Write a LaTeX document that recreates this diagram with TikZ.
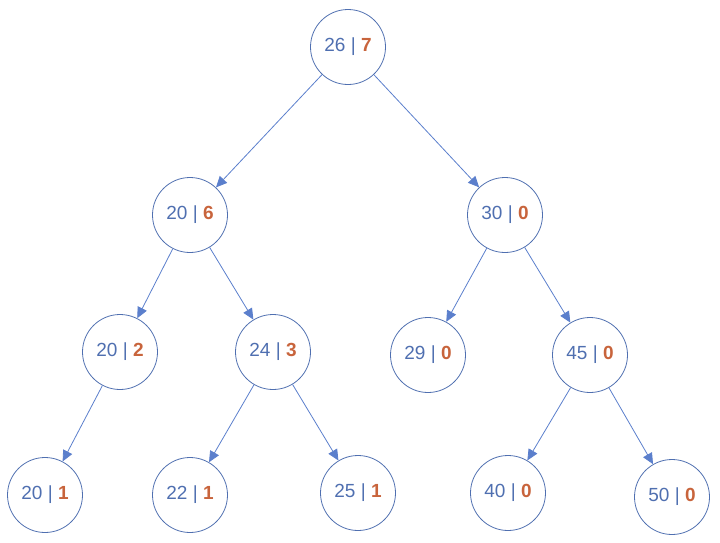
\documentclass[tikz,border=0pt]{standalone}
\usepackage{fontspec}
\setmainfont{Liberation Sans}
\usetikzlibrary{arrows.meta}
\definecolor{nblue}{HTML}{4F6FB0}
\definecolor{lblue}{HTML}{5B7FCC}
\definecolor{nred}{HTML}{C8643C}
\begin{document}
\begin{tikzpicture}[x=1pt,y=-1pt,
  tn/.style={circle,draw=nblue,line width=0.8pt,minimum size=75pt,inner sep=0pt,text=nblue,font=\fontsize{19}{22}\selectfont},
  edge/.style={draw=lblue,line width=0.8pt,-{Triangle[length=11pt,width=10pt]}}]
\useasboundingbox (0,0) rectangle (720,542);
\newcommand\tv[2]{#1 | \textcolor{nred}{\textbf{#2}}}
\node[tn] (r) at (348,47) {\tv{26}{7}};
\node[tn] (a) at (190,215) {\tv{20}{6}};
\node[tn] (b) at (505,215) {\tv{30}{0}};
\node[tn] (c) at (120,352) {\tv{20}{2}};
\node[tn] (d) at (273,352) {\tv{24}{3}};
\node[tn] (e) at (428,355) {\tv{29}{0}};
\node[tn] (f) at (590,355) {\tv{45}{0}};
\node[tn] (g) at (45,495) {\tv{20}{1}};
\node[tn] (h) at (190,495) {\tv{22}{1}};
\node[tn] (i) at (358,493) {\tv{25}{1}};
\node[tn] (j) at (508,493) {\tv{40}{0}};
\node[tn] (k) at (672,497) {\tv{50}{0}};
\foreach \p/\q in {r/a,r/b,a/c,a/d,b/e,b/f,c/g,d/h,d/i,f/j,f/k}
  \draw[edge] (\p) -- (\q);
\end{tikzpicture}
\end{document}
